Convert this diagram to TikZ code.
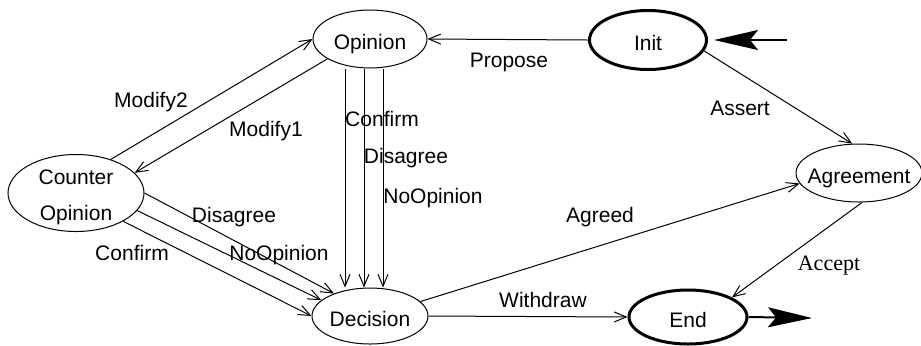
\documentclass[tikz,border=0pt]{standalone}
\usepackage{fontspec}
\setmainfont{Liberation Sans}
\newfontfamily\timesfam{Liberation Serif}
\usetikzlibrary{shapes.geometric,arrows.meta}

\tikzset{st/.style={draw, ellipse, inner sep=-4pt, line width=0.5pt, text height=10pt, text depth=0pt}}
\tikzset{ist/.style={st, line width=1.5pt}}
\tikzset{lbl/.style={anchor=base, inner sep=0pt}}
\tikzset{tr/.style={line width=0.5pt, -{Straight Barb[length=6pt,width=5pt]}}}
\tikzset{big/.style={line width=1pt, -{Stealth[length=22pt,width=10pt,inset=4pt]}}}

\begin{document}
\begin{tikzpicture}[x=0.5pt, y=-0.5pt]
\tikzstyle{every node}=[font=\fontsize{10.5}{12.6}\selectfont]
\useasboundingbox (0,0) rectangle (921,345);
% states
\node[st, minimum width=57pt, minimum height=29pt] (opinion) at (370,39) {Opinion};
\node[ist, minimum width=58.5pt, minimum height=29.5pt] (init) at (648,40) {Init};
\node[st, minimum width=68pt, minimum height=38.5pt, align=center, text height=29pt, text depth=2pt] (counter) at (76,193) {Counter\\[5.4pt]Opinion};
\node[st, minimum width=58pt, minimum height=28pt] (decision) at (370,316) {Decision};
\node[st, minimum width=63pt, minimum height=29pt] (agree) at (859,173) {Agreement};
\node[ist, minimum width=59pt, minimum height=27pt] (end) at (688,317) {End};
\coordinate (entry) at (787,40);
\coordinate (exit) at (812,318);
% transitions
\draw[big] (entry) -- ([xshift=3pt]init.east);
\draw[big] (end.east) -- (exit);
\draw[tr] (init.west) -- (opinion.east);
\draw[tr] (init.-11) -- (agree.103);
\draw[tr] (agree.-84) -- (end.24);
\draw[tr] (decision.16) -- (agree.190);
\draw[tr] (decision.east) -- (end.west);
\draw[tr] (counter.44) -- (opinion.180);
\draw[tr] (opinion.205) -- (counter.19);
\draw[tr] ([xshift=-12.5pt]opinion.south) -- ([xshift=-12.5pt]decision.north);
\draw[tr] ([xshift=-3pt]opinion.south) -- ([xshift=-3pt]decision.north);
\draw[tr] ([xshift=6.5pt]opinion.south) -- ([xshift=6.5pt]decision.north);
\draw[tr] (counter.0) -- (decision.148);
\draw[tr] (counter.-16) -- (decision.162);
\draw[tr] (counter.-31) -- (decision.180);
% labels
\node[lbl] (lpropose) at (509,67) {Propose};
\node[lbl] (lassert) at (740,115) {Assert};
\node[lbl, font={\fontsize{11}{13}\selectfont\timesfam}] (laccept) at (829,270) {Accept};
\node[lbl] (lagreed) at (600,222) {Agreed};
\node[lbl] (lwithdraw) at (543,307) {Withdraw};
\node[lbl] (lmodtwo) at (151,107) {Modify2};
\node[lbl] (lmodone) at (266,136) {Modify1};
\node[lbl] (lconfirm) at (382,126) {Confirm};
\node[lbl] (ldisagree) at (406,163) {Disagree};
\node[lbl] (lnoop) at (433,203) {NoOpinion};
\node[lbl] (lcdisagree) at (234,222) {Disagree};
\node[lbl] (lcnoop) at (279,260) {NoOpinion};
\node[lbl] (lcconfirm) at (132,260) {Confirm};
\end{tikzpicture}
\end{document}
